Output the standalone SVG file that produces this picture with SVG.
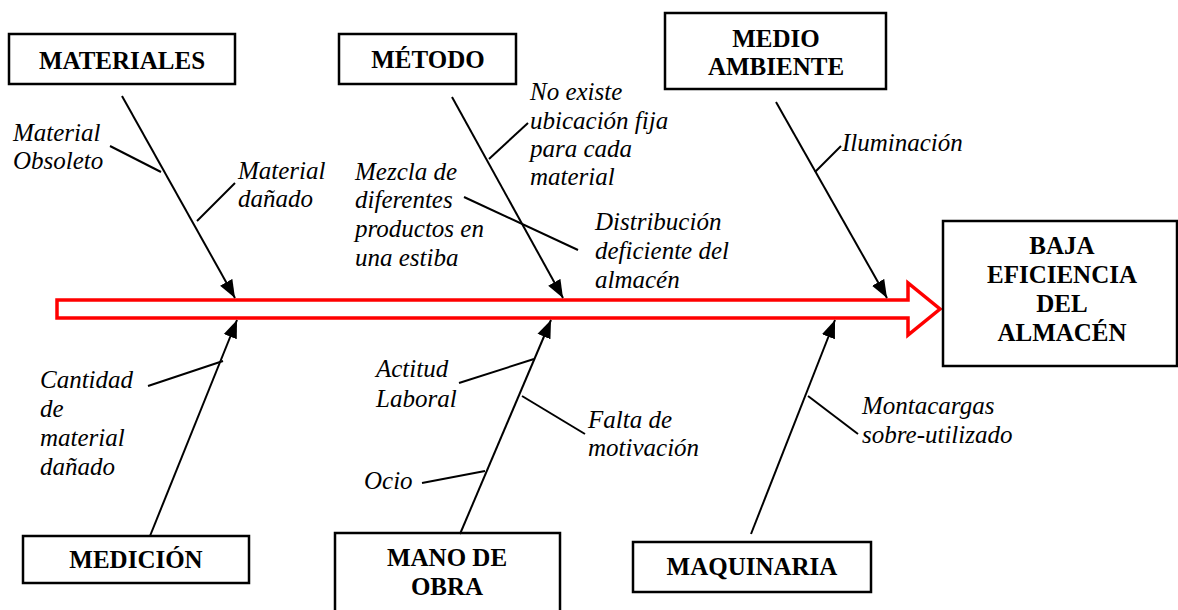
<svg xmlns="http://www.w3.org/2000/svg" width="1178" height="610" viewBox="0 0 1178 610" font-family="'Liberation Serif', 'Times New Roman', 'DejaVu Serif', serif">
<defs>
<marker id="ah" markerUnits="userSpaceOnUse" markerWidth="20" markerHeight="16" viewBox="0 0 20 16" refX="18" refY="8" orient="auto">
<path d="M0,1 L18,8 L0,15 Z" fill="#000"/>
</marker>
<style>
.box{fill:#fff;stroke:#000;stroke-width:2.5}
.bt{font-family:'Liberation Serif','Times New Roman','DejaVu Serif',serif;font-weight:bold;font-size:25px;fill:#000;text-anchor:middle}
.it{font-family:'Liberation Serif','Times New Roman','DejaVu Serif',serif;font-style:italic;font-size:25px;fill:#000}
.ln{stroke:#000;stroke-width:2;fill:none}
.main{stroke:#000;stroke-width:2;fill:none;marker-end:url(#ah)}
</style>
</defs>
<rect width="1178" height="610" fill="#fff"/>
<g id="spine">
<path d="M57,300 L908,300 L908,283 L940,309 L908,335 L908,318 L57,318 Z" fill="#fff" stroke="#ff0000" stroke-width="3.5"/>
</g>
<g id="materiales">
<rect class="box" x="9" y="34" width="226" height="50"/>
<text class="bt" x="122" y="69">MATERIALES</text>
</g>
<g id="metodo">
<rect class="box" x="339" y="34" width="177" height="50"/>
<text class="bt" x="428" y="68">MÉTODO</text>
</g>
<g id="medio-ambiente">
<rect class="box" x="665" y="13" width="221" height="76"/>
<text class="bt" x="776" y="47">MEDIO</text>
<text class="bt" x="776" y="75">AMBIENTE</text>
</g>
<g id="efecto">
<rect class="box" x="943" y="221" width="234" height="145"/>
<text class="bt" x="1062" y="254">BAJA</text>
<text class="bt" x="1062" y="283">EFICIENCIA</text>
<text class="bt" x="1062" y="312">DEL</text>
<text class="bt" x="1062" y="341">ALMACÉN</text>
</g>
<g id="medicion">
<rect class="box" x="23" y="536" width="226" height="47"/>
<text class="bt" x="136" y="568">MEDICIÓN</text>
</g>
<g id="mano-de-obra">
<rect class="box" x="335" y="533" width="225" height="82"/>
<text class="bt" x="447" y="566">MANO DE</text>
<text class="bt" x="447" y="595">OBRA</text>
</g>
<g id="maquinaria">
<rect class="box" x="633" y="542" width="238" height="50"/>
<text class="bt" x="752" y="575">MAQUINARIA</text>
</g>
<g id="connectors">
<line class="main" x1="122" y1="96" x2="235" y2="298"/>
<line class="ln" x1="110" y1="146" x2="161" y2="172"/>
<line class="ln" x1="235" y1="183" x2="197" y2="221"/>
<line class="main" x1="452" y1="97" x2="563" y2="298"/>
<line class="ln" x1="489" y1="159" x2="528" y2="123"/>
<line class="ln" x1="464" y1="197" x2="578" y2="250"/>
<line class="main" x1="776" y1="102" x2="887" y2="298"/>
<line class="ln" x1="815" y1="172" x2="841" y2="146"/>
<line class="main" x1="150" y1="536" x2="237" y2="320"/>
<line class="ln" x1="148" y1="386" x2="223" y2="361"/>
<line class="main" x1="460" y1="534" x2="551" y2="320"/>
<line class="ln" x1="459" y1="383" x2="534" y2="359"/>
<line class="ln" x1="522" y1="396" x2="585" y2="434"/>
<line class="ln" x1="422" y1="483" x2="485" y2="471"/>
<line class="main" x1="751" y1="534" x2="835" y2="320"/>
<line class="ln" x1="808" y1="396" x2="858" y2="434"/>
</g>
<g id="labels">
<text class="it" x="13" y="141">Material</text>
<text class="it" x="13" y="169">Obsoleto</text>
<text class="it" x="238" y="179">Material</text>
<text class="it" x="238" y="207">dañado</text>
<text class="it" x="530" y="100">No existe</text>
<text class="it" x="530" y="129">ubicación fija</text>
<text class="it" x="530" y="157">para cada</text>
<text class="it" x="530" y="185">material</text>
<text class="it" x="355" y="180">Mezcla de</text>
<text class="it" x="355" y="208">diferentes</text>
<text class="it" x="355" y="237">productos en</text>
<text class="it" x="355" y="266">una estiba</text>
<text class="it" x="595" y="230">Distribución</text>
<text class="it" x="595" y="259">deficiente del</text>
<text class="it" x="595" y="288">almacén</text>
<text class="it" x="842" y="151">Iluminación</text>
<text class="it" x="40" y="388">Cantidad</text>
<text class="it" x="40" y="417">de</text>
<text class="it" x="40" y="446">material</text>
<text class="it" x="40" y="475">dañado</text>
<text class="it" x="376" y="377">Actitud</text>
<text class="it" x="376" y="407">Laboral</text>
<text class="it" x="588" y="428">Falta de</text>
<text class="it" x="588" y="456">motivación</text>
<text class="it" x="364" y="489">Ocio</text>
<text class="it" x="862" y="414">Montacargas</text>
<text class="it" x="862" y="443">sobre-utilizado</text>
</g>
</svg>
